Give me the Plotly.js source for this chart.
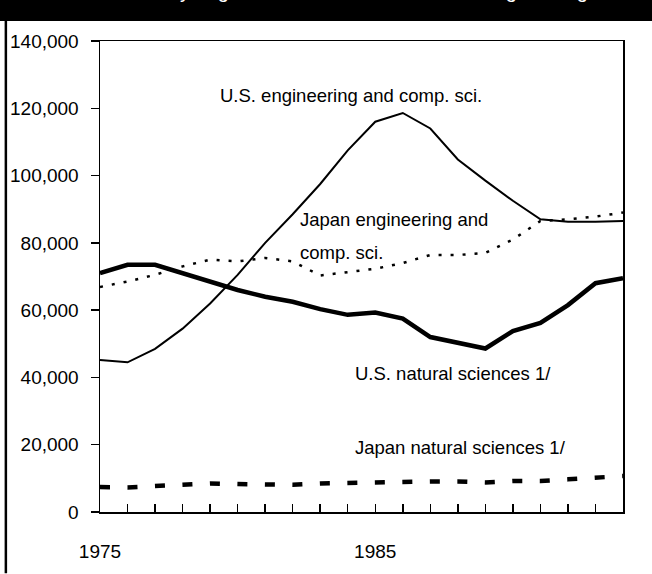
<!DOCTYPE html>
<html>
<head>
<meta charset="utf-8">
<script src="https://cdn.plot.ly/plotly-3.0.1.min.js"></script>
<style>html,body{margin:0;padding:0;background:#fff;}#chart{width:652px;height:574px;}</style>
</head>
<body>
<div id="chart"></div>
<script>
const years = [1975,1976,1977,1978,1979,1980,1981,1982,1983,1984,1985,1986,1987,1988,1989,1990,1991,1992,1993,1994];
const usEngineering = [45200,44500,48500,54500,62000,70500,80000,88500,97500,107500,116000,118600,114000,104800,98500,92500,87000,86300,86300,86500];
const usNatural = [71000,73500,73500,71000,68500,66000,64000,62500,60300,58600,59300,57500,52000,50300,48600,53800,56200,61500,68000,69500];
const japanEngineering = [66900,68500,70500,73000,75000,74500,75500,74500,70300,71300,72300,74000,76400,76400,77000,81000,86500,87000,87800,89000];
const japanNatural = [7400,7300,7700,8000,8500,8300,8300,8100,8500,8700,8700,9200,9100,9100,8800,9200,9200,9700,10300,10700];
const xTickVals = [1975, 1985];
const xTickText = ["1975", "1985"];
const titleText = "First university degrees in natural sciences and engineering";

const FONT = '"Liberation Sans", Arial, Helvetica, sans-serif';

const traces = [
  {x: years, y: usEngineering, mode: 'lines', line: {color: '#000', width: 2}, name: 'U.S. engineering and comp. sci.'},
  {x: years, y: japanEngineering, mode: 'lines', line: {color: '#000', width: 2.5, dash: '3px,9px'}, name: 'Japan engineering and comp. sci.'},
  {x: years, y: usNatural, mode: 'lines', line: {color: '#000', width: 4.5}, name: 'U.S. natural sciences 1/'},
  {x: years, y: japanNatural, mode: 'lines', line: {color: '#000', width: 4.5, dash: '10px,17.5px'}, name: 'Japan natural sciences 1/'}
];

const annFont = {family: FONT, size: 18.5, color: '#000'};
const layout = {
  width: 652, height: 574,
  margin: {l: 100, r: 29, t: 41, b: 62},
  paper_bgcolor: '#fff', plot_bgcolor: '#fff',
  showlegend: false,
  font: {family: FONT, size: 19, color: '#000'},
  xaxis: {
    range: [1975, 1994], showgrid: false, zeroline: false,
    showline: true, linecolor: '#000', linewidth: 1.5, mirror: true,
    tickmode: 'array', tickvals: xTickVals, ticktext: xTickText,
    ticks: 'inside', ticklen: 8, tickcolor: '#000', tickwidth: 1.5,
    ticklabelstandoff: 22,
    minor: {tick0: 1975, dtick: 1, ticks: 'inside', ticklen: 8, tickcolor: '#000', tickwidth: 1.5, showgrid: false},
    tickfont: {family: FONT, size: 19, color: '#000'}
  },
  yaxis: {
    range: [0, 140000], dtick: 20000, tickformat: ',d', showgrid: false, zeroline: false,
    showline: true, linecolor: '#000', linewidth: 1.5, mirror: true,
    ticks: 'outside', ticklen: 8, tickcolor: '#000', tickwidth: 1.5,
    ticklabelstandoff: 8,
    tickfont: {family: FONT, size: 19, color: '#000'}
  },
  shapes: [
    {type: 'rect', xref: 'paper', yref: 'paper', x0: -0.2, x1: 1.1, y0: 1.0425, y1: 1.12, fillcolor: '#000', line: {width: 0}, layer: 'above'},
    {type: 'line', xref: 'paper', yref: 'paper', x0: -0.18, x1: -0.18, y0: -0.13, y1: 1.05, line: {color: '#000', width: 2.5}}
  ],
  annotations: [
    {text: titleText, xref: 'paper', yref: 'paper', x: 0.43, y: 1.1055, xanchor: 'center', yanchor: 'middle', showarrow: false, font: {family: FONT, size: 20, color: '#fff'}},
    {text: 'U.S. engineering and comp. sci.', x: 1979.3, y: 123700, xref: 'x', yref: 'y', xanchor: 'left', yanchor: 'middle', showarrow: false, font: annFont},
    {text: 'Japan engineering and', x: 1982.2, y: 86800, xref: 'x', yref: 'y', xanchor: 'left', yanchor: 'middle', showarrow: false, font: annFont},
    {text: 'comp. sci.', x: 1982.2, y: 77000, xref: 'x', yref: 'y', xanchor: 'left', yanchor: 'middle', showarrow: false, font: annFont},
    {text: 'U.S. natural sciences 1/', x: 1984.2, y: 41300, xref: 'x', yref: 'y', xanchor: 'left', yanchor: 'middle', showarrow: false, font: annFont},
    {text: 'Japan natural sciences 1/', x: 1984.2, y: 19300, xref: 'x', yref: 'y', xanchor: 'left', yanchor: 'middle', showarrow: false, font: annFont}
  ]
};

Plotly.newPlot('chart', traces, layout, {staticPlot: true, displayModeBar: false});
</script>
</body>
</html>
